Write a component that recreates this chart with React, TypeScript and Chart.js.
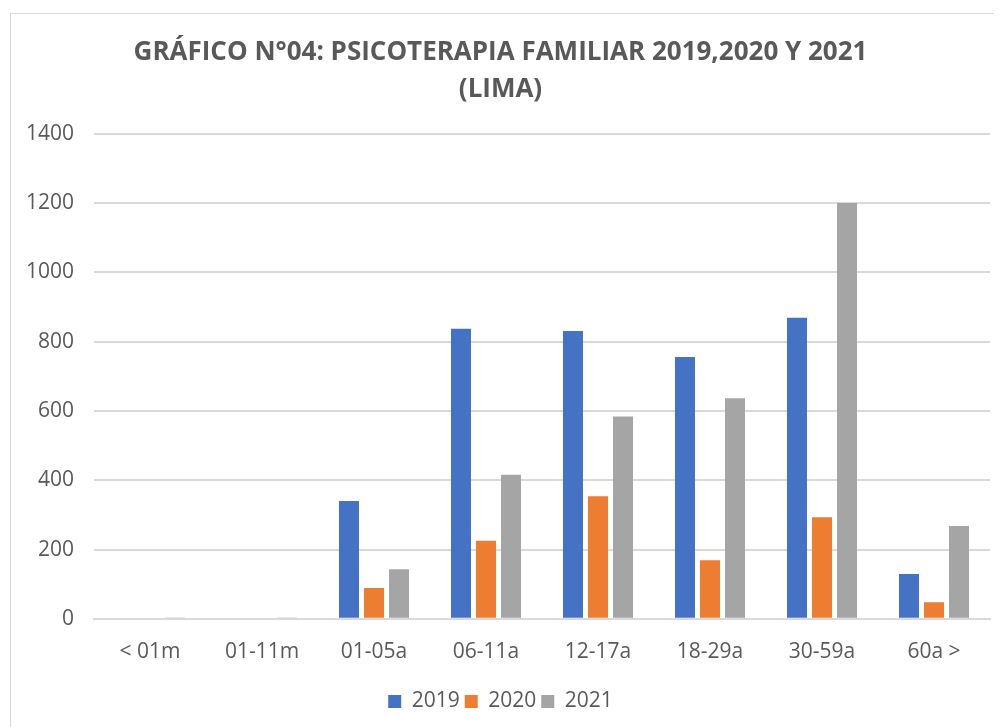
import React, { useEffect, useRef } from "react";
import { Chart, registerables } from "chart.js";

Chart.register(...registerables);

const categories = ["< 01m", "01-11m", "01-05a", "06-11a", "12-17a", "18-29a", "30-59a", "60a >"];
const values2019 = [0, 0, 340, 837, 831, 756, 869, 129];
const values2020 = [0, 0, 89, 225, 354, 169, 293, 48];
const values2021 = [2, 2, 143, 416, 584, 637, 1200, 268];
const seriesNames = ["2019", "2020", "2021"];
const titleLines = ["GRÁFICO N°04: PSICOTERAPIA FAMILIAR 2019,2020 Y 2021", "(LIMA)"];

const FONT = "'Open Sans', sans-serif";
const TEXT = "#595959";

export default function App() {
  const ref = useRef<HTMLCanvasElement | null>(null);
  useEffect(() => {
    if (!ref.current) return;
    const chart = new Chart(ref.current, {
      type: "bar",
      data: {
        labels: categories,
        datasets: [
          { label: seriesNames[0], data: values2019, backgroundColor: "#4472C4" },
          { label: seriesNames[1], data: values2020, backgroundColor: "#ED7D31" },
          { label: seriesNames[2], data: values2021, backgroundColor: "#A5A5A5" },
        ],
      },
      options: {
        animation: false,
        responsive: false,
        maintainAspectRatio: false,
        layout: { padding: { left: 0, right: 10, top: 20, bottom: 0 } },
        datasets: { bar: { categoryPercentage: 0.67, barPercentage: 0.8 } },
        plugins: {
          title: {
            display: true,
            text: titleLines,
            color: TEXT,
            font: { family: FONT, size: 26, weight: "bold", lineHeight: 1.42 },
            padding: { top: 0, bottom: 26 },
          },
          legend: {
            position: "bottom",
            labels: {
              color: TEXT,
              font: { family: FONT, size: 21 },
              boxWidth: 13,
              boxHeight: 13,
              padding: 5,
            },
          },
          tooltip: { enabled: false },
        },
        scales: {
          x: {
            grid: { display: false, drawTicks: false },
            border: { display: true, color: "#d9d9d9", width: 2 },
            ticks: { color: TEXT, font: { family: FONT, size: 21 }, padding: 21 },
          },
          y: {
            min: 0,
            max: 1400,
            grid: { color: "#d9d9d9", lineWidth: 2, drawTicks: false },
            border: { display: false },
            ticks: {
              stepSize: 200,
              color: TEXT,
              font: { family: FONT, size: 21 },
              padding: 20,
              callback: (v: any) => String(v),
            },
            afterFit: (scale: any) => {
              scale.width = 83;
            },
          },
        },
      },
    });
    return () => chart.destroy();
  }, []);
  return (
    <div
      style={{
        marginLeft: 2,
        marginTop: 5,
        width: 990,
        height: 714,
        border: "1px solid #d9d9d9",
        borderBottom: "none",
        borderRight: "none",
        boxSizing: "border-box",
      }}
    >
      <canvas ref={ref} width={989} height={708} style={{ display: "block" }} />
    </div>
  );
}
